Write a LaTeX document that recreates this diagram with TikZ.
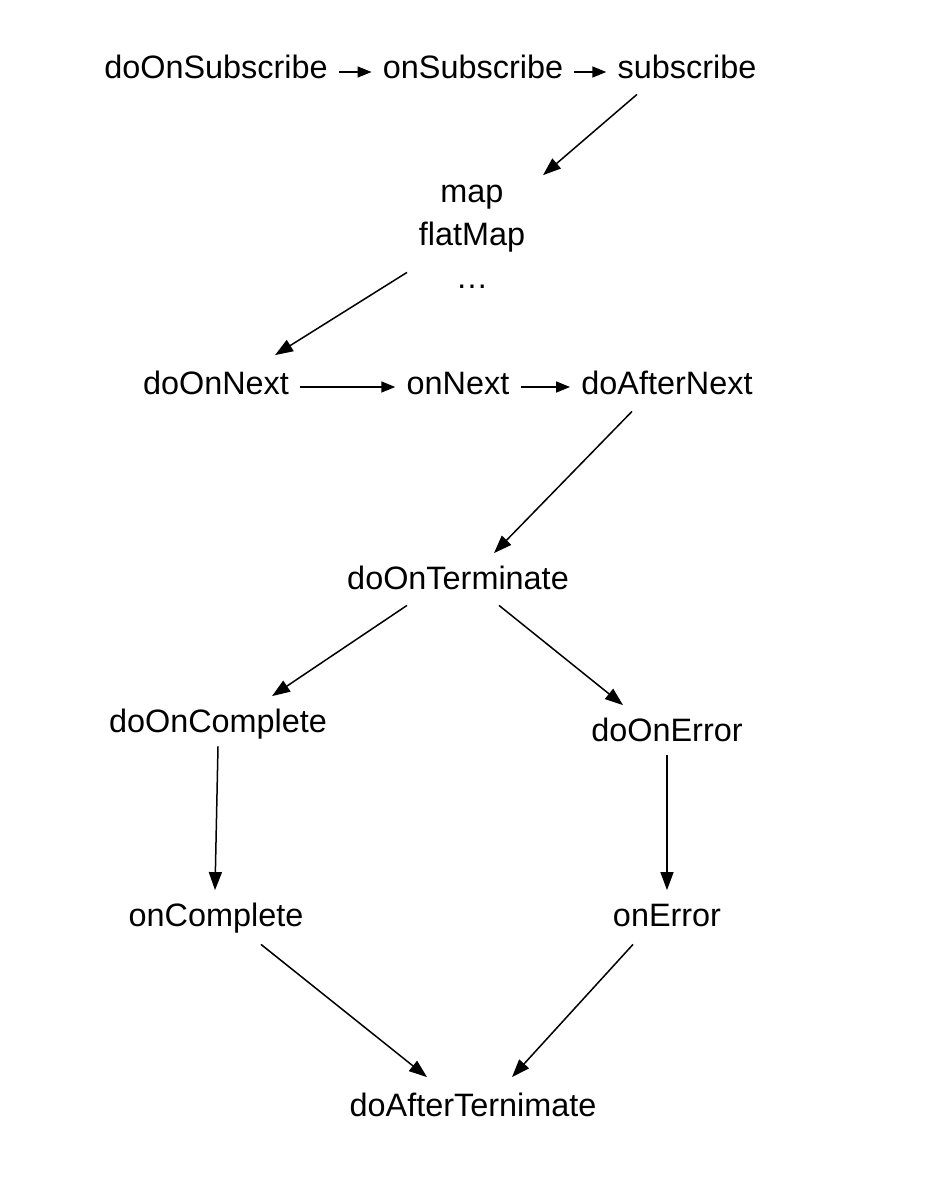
\documentclass[tikz,border=0pt]{standalone}
\usepackage{fontspec}
\setmainfont{Liberation Sans}
\usetikzlibrary{arrows.meta}
\begin{document}
\begin{tikzpicture}[x=0.5pt, y=-0.5pt,
    op/.style={inner sep=0pt, anchor=base, text height=0.85em, text depth=0.15em,
      font=\fontsize{16.2}{21.5}\selectfont},
    opblock/.style={inner sep=0pt, anchor=base, align=center,
      font=\fontsize{16.2}{21.5}\selectfont},
    flow/.style={-{Triangle[length=9pt, width=6.5pt]}, line width=0.75pt},
    hflow/.style={flow, -{Triangle[length=7pt, width=5.5pt]}, shorten <=5.5pt, shorten >=5.5pt}]%
    \useasboundingbox (0, 0) rectangle (926, 1204);
    % subscribe chain
    \node[op] (dosub) at (216, 79) {doOnSubscribe};
    \node[op] (onsub) at (473, 79) {onSubscribe};
    \node[op] (subsc) at (687, 79) {subscribe};
    \node[opblock] (ops) at (472, 288) {map\\flatMap\\…};
    % next chain
    \node[op] (donext) at (216, 394) {doOnNext};
    \node[op] (onnext) at (458, 394) {onNext};
    \node[op] (afternext) at (667, 394) {doAfterNext};
    \node[op] (doterm) at (458, 589) {doOnTerminate};
    % complete / error
    \node[op] (docompl) at (218, 732) {doOnComplete};
    \node[op] (doerr) at (667, 741) {doOnError};
    \node[op] (oncompl) at (216, 926) {onComplete};
    \node[op] (onerr) at (667, 926) {onError};
    \node[op] (afterterm) at (473, 1116) {doAfterTernimate};

    \draw[hflow] (dosub) -- (onsub);
    \draw[hflow] (onsub) -- (subsc);
    \draw[flow] ([shift={(-50, 12)}]subsc.south) -- ([shift={(71, -9)}]ops.north);
    \draw[flow] ([shift={(-65, -16)}]ops.south) -- ([shift={(59, -21.5)}]donext.north);

    \draw[hflow] (donext) -- (onnext);
    \draw[hflow] (onnext) -- (afternext);
    \draw[flow] ([shift={(-35, 14)}]afternext.south) -- ([shift={(36, -18.5)}]doterm.north);

    \draw[flow] ([shift={(-51, 13)}]doterm.south) -- ([shift={(54, -18.5)}]docompl.north);
    \draw[flow] ([shift={(41, 13)}]doterm.south) -- ([shift={(-44, -18.5)}]doerr.north);
    \draw[flow] ([shift={(0, 11)}]docompl.south) -- ([shift={(-1, -18.5)}]oncompl.north);
    \draw[flow] ([shift={(0, 11)}]doerr.south) -- ([shift={(0, -18.5)}]onerr.north);

    \draw[flow] ([shift={(45, 15)}]oncompl.south) -- ([shift={(-46, -21.5)}]afterterm.north);
    \draw[flow] ([shift={(-34, 15)}]onerr.south) -- ([shift={(39, -21.5)}]afterterm.north);
  \end{tikzpicture}
\end{document}
